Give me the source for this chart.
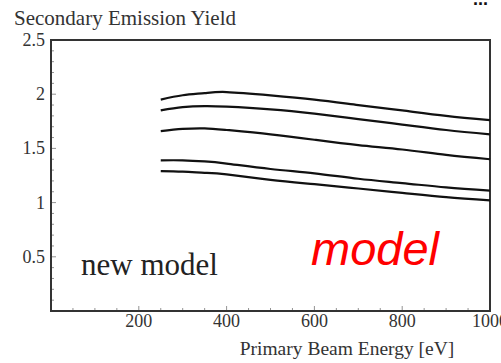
<!DOCTYPE html>
<html>
<head>
<meta charset="utf-8">
<script src="https://cdn.jsdelivr.net/npm/d3@7"></script>
<style>
  body { margin: 0; background: #fff; }
  svg { display: block; }
</style>
</head>
<body>
<div id="chart"></div>
<script>
// Curve values, energy in eV
const energies = [250, 300, 350, 400, 500, 600, 700, 800, 900, 1000];
const yield1 = [1.95, 1.99, 2.01, 2.02, 1.99, 1.95, 1.9, 1.85, 1.8, 1.76];
const yield2 = [1.85, 1.88, 1.89, 1.885, 1.86, 1.82, 1.77, 1.72, 1.67, 1.63];
const yield3 = [1.66, 1.68, 1.685, 1.67, 1.63, 1.58, 1.53, 1.49, 1.44, 1.4];
const yield4 = [1.39, 1.39, 1.38, 1.36, 1.31, 1.27, 1.22, 1.18, 1.14, 1.11];
const yield5 = [1.29, 1.285, 1.275, 1.26, 1.21, 1.17, 1.13, 1.09, 1.05, 1.02];
const xTicks = [200, 400, 600, 800, 1000];
const yTicks = [0.5, 1, 1.5, 2, 2.5];

const size = { width: 501, height: 363 };
const margin = { top: 40, right: 11, bottom: 52, left: 51 };
const serif = '"Liberation Serif", "Times New Roman", serif';

const svg = d3
  .select('#chart')
  .append('svg')
  .attr('width', size.width)
  .attr('height', size.height);

const x = d3
  .scaleLinear()
  .domain([0, 1000])
  .range([margin.left, size.width - margin.right]);

const y = d3
  .scaleLinear()
  .domain([0, 2.5])
  .range([size.height - margin.bottom, margin.top]);

/*
   Frame and ticks (Mathematica style, ticks point inward)
 */
const frameColor = '#333';

// minor ticks
const xMinor = d3.range(50, 1000, 50);
const yMinor = d3.range(0.1, 2.5, 0.1);

svg
  .append('g')
  .selectAll('line')
  .data(xMinor)
  .enter()
  .append('line')
  .attr('x1', (d) => x(d))
  .attr('x2', (d) => x(d))
  .attr('y1', y(0))
  .attr('y2', (d) => y(0) - (d % 200 === 0 ? 5 : 3))
  .attr('stroke', '#777')
  .attr('stroke-width', 0.8);

svg
  .append('g')
  .selectAll('line')
  .data(yMinor)
  .enter()
  .append('line')
  .attr('x1', x(0))
  .attr('x2', (d) => x(0) + (Math.abs(d * 2 - Math.round(d * 2)) < 1e-6 ? 5 : 3))
  .attr('y1', (d) => y(d))
  .attr('y2', (d) => y(d))
  .attr('stroke', '#777')
  .attr('stroke-width', 0.8);

svg
  .append('rect')
  .attr('x', x(0))
  .attr('y', y(2.5))
  .attr('width', x(1000) - x(0))
  .attr('height', y(0) - y(2.5))
  .attr('fill', 'none')
  .attr('stroke', frameColor)
  .attr('stroke-width', 2);

// tick labels
svg
  .append('g')
  .selectAll('text')
  .data(xTicks)
  .enter()
  .append('text')
  .text((d) => d)
  .attr('x', (d) => x(d))
  .attr('y', y(0) + 16)
  .attr('text-anchor', 'middle')
  .style('font-family', serif)
  .style('font-size', '18px')
  .attr('fill', '#333');

svg
  .append('g')
  .selectAll('text')
  .data(yTicks)
  .enter()
  .append('text')
  .text((d) => d)
  .attr('x', x(0) - 6)
  .attr('y', (d) => y(d) + 6)
  .attr('text-anchor', 'end')
  .style('font-family', serif)
  .style('font-size', '18px')
  .attr('fill', '#333');

// axis titles
svg
  .append('text')
  .text('Secondary Emission Yield')
  .attr('x', 14)
  .attr('y', 25)
  .style('font-family', serif)
  .style('font-size', '21px')
  .attr('fill', '#333');

svg
  .append('text')
  .text('Primary Beam Energy [eV]')
  .attr('x', 347)
  .attr('y', 355)
  .attr('text-anchor', 'middle')
  .style('font-family', serif)
  .style('font-size', '19.5px')
  .attr('fill', '#333');

/*
   Curves
 */
const line = d3
  .line()
  .x((d) => x(d[0]))
  .y((d) => y(d[1]))
  .curve(d3.curveNatural);

[yield1, yield2, yield3, yield4, yield5].forEach((series) => {
  svg
    .append('path')
    .datum(energies.map((e, i) => [e, series[i]]))
    .attr('d', line)
    .attr('fill', 'none')
    .attr('stroke', '#111')
    .attr('stroke-width', 2.2);
});

/*
   Labels
 */
svg
  .append('text')
  .text('new model')
  .attr('x', 81)
  .attr('y', 275)
  .style('font-family', serif)
  .style('font-size', '31px')
  .attr('fill', '#222');

svg
  .append('text')
  .text('model')
  .attr('x', 311)
  .attr('y', 265)
  .style('font-family', '"Liberation Sans", Arial, sans-serif')
  .style('font-style', 'italic')
  .style('font-size', '47px')
  .attr('fill', '#ff0000');

// cut-off text at the top right corner
svg
  .append('text')
  .text('...')
  .attr('x', 473)
  .attr('y', 5)
  .style('font-family', '"Liberation Sans", Arial, sans-serif')
  .style('font-weight', 'bold')
  .style('font-size', '18px')
  .attr('fill', '#111');
</script>
</body>
</html>
